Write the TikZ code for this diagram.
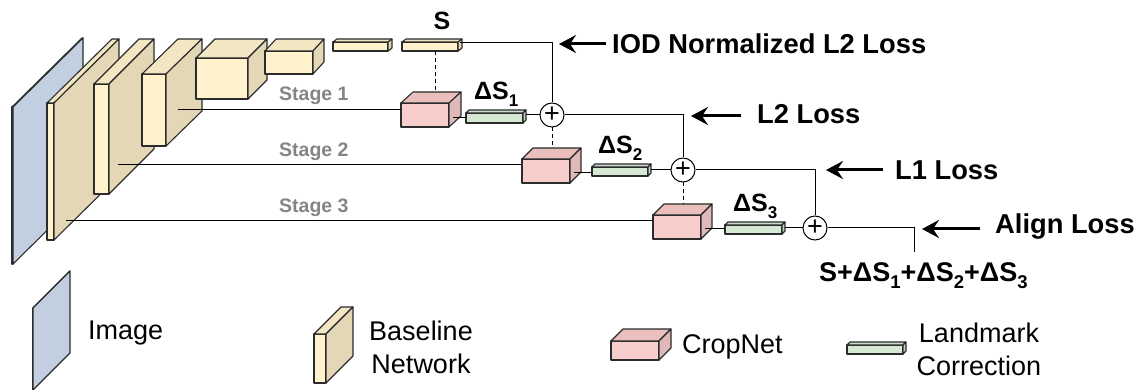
\documentclass[tikz,border=0pt]{standalone}
\usepackage{fontspec}
\usepackage{xcolor}
\usepackage{tikz}
\usetikzlibrary{arrows.meta}
\setmainfont{Liberation Sans}

\definecolor{woodfront}{HTML}{FFF2CC}
\definecolor{woodtop}{HTML}{F3E6C2}
\definecolor{woodside}{HTML}{E3D7B5}
\definecolor{cropfront}{HTML}{F8CECC}
\definecolor{croptop}{HTML}{EBBFBD}
\definecolor{cropside}{HTML}{DFB9B8}
\definecolor{markfront}{HTML}{D5E8D4}
\definecolor{marktop}{HTML}{CADCC9}
\definecolor{markside}{HTML}{BFD1BE}
\definecolor{imagefront}{HTML}{6A7078}
\definecolor{imagetop}{HTML}{6A7078}
\definecolor{imageside}{HTML}{C1CFE1}
\definecolor{edgecol}{HTML}{2B2B2B}

\tikzset{
  face/.style={draw=edgecol,line width=1.1pt,line join=round},
  link/.style={draw=black,line width=1pt},
  dashlink/.style={draw=black,line width=1pt,dash pattern=on 4pt off 3pt},
  loss/.style={line width=3pt,-{Stealth[length=17pt,width=18pt,inset=6pt]}},
  plusnode/.style={draw=black,circle,line width=1pt,fill=white,minimum size=24pt,inner sep=0pt,
    font=\fontsize{27}{27}\selectfont},
  title/.style={font=\fontsize{27.3}{30}\selectfont\bfseries,anchor=west,inner sep=0pt},
  sumtext/.style={font=\fontsize{25}{28}\selectfont\bfseries,inner sep=0pt},
  stagetext/.style={font=\fontsize{19.5}{22}\selectfont\bfseries,text=black!48,anchor=west,inner sep=0pt},
  legendtext/.style={font=\fontsize{27}{33}\selectfont,align=center,inner sep=0pt},
}

% name, left, top, width, height, dx, dy, colour family
\newcommand{\prism}[8]{
  \node[face,fill=#8front,anchor=north west,inner sep=0pt,outer sep=0pt,
    minimum width=#4pt,minimum height=#5pt] (#1) at (#2,#3) {};
  \draw[face,fill=#8top] (#1.north west) -- ++(#6,-#7) -- ++(#4,0) -- (#1.north east) -- cycle;
  \draw[face,fill=#8side] (#1.north east) -- ++(#6,-#7) -- ++(0,#5) -- (#1.south east) -- cycle;
}
\newcommand{\lowidx}[1]{\raisebox{-6.5pt}{\fontsize{17}{17}\selectfont #1}}
\newcommand{\sumidx}[1]{\raisebox{-7pt}{\fontsize{18.5}{18}\selectfont #1}}

\begin{document}
\begin{tikzpicture}[x=1pt,y=-1pt]
  \useasboundingbox (0,0) rectangle (1136,390);

  \prism{image}{12}{107}{1}{157}{70}{69}{image}
  \prism{base1}{47}{103}{7}{137}{65}{64}{wood}
  \prism{base2}{94}{84}{15}{110}{45}{45}{wood}
  \prism{base3}{142}{74}{24}{72}{36}{35}{wood}
  \prism{base4}{196}{58}{52}{41}{19}{19}{wood}
  \prism{base5}{265}{51}{48}{23}{11}{12}{wood}
  \prism{base6}{333}{42}{55}{9}{4}{3}{wood}
  \prism{base7}{402}{42}{56}{9}{4}{3}{wood}

  \prism{crop1}{401}{103}{48}{24}{12}{11}{crop}
  \prism{crop2}{522}{159}{48}{24}{11}{11}{crop}
  \prism{crop3}{653}{215}{48}{24}{11}{11}{crop}
  \prism{mark1}{466}{113}{57}{10}{3}{3}{mark}
  \prism{mark2}{592}{167}{56}{9}{3}{3}{mark}
  \prism{mark3}{725}{225}{57}{9}{3}{3}{mark}

  \node[plusnode] (plus1) at (552,115) {+};
  \node[plusnode] (plus2) at (683,170) {+};
  \node[plusnode] (plus3) at (815,228) {+};

  \coordinate (stage1) at (178,110);
  \coordinate (stage2) at (118,165);
  \coordinate (stage3) at (66,221);
  \coordinate (crop1out) at (453,118);
  \coordinate (crop2out) at (574,172.5);
  \coordinate (crop3out) at (705,229);
  \coordinate (shapeout) at (460,43);
  \coordinate (finalout) at (914,252);

  \draw[link] (stage1) -- (stage1 -| crop1.west);
  \draw[link] (stage2) -- (stage2 -| crop2.west);
  \draw[link] (stage3) -- (stage3 -| crop3.west);
  \draw[link] (crop1out) -- (crop1out -| mark1.west);
  \draw[link] (crop2out) -- (crop2out -| mark2.west);
  \draw[link] (crop3out) -- (crop3out -| mark3.west);
  \draw[link] (mark1.east |- plus1) ++(3,0) -- (plus1.west);
  \draw[link] (mark2.east |- plus2) ++(3,0) -- (plus2.west);
  \draw[link] (mark3.east |- plus3) ++(3,0) -- (plus3.west);
  \draw[link] (shapeout) -| (plus1.north);
  \draw[link] (plus1.east) -| (plus2.north);
  \draw[link] (plus2.east) -| (plus3.north);
  \draw[link] (plus3.east) -| (finalout);

  \draw[dashlink] (base7.south -| 435,0) -- (435,91);
  \draw[dashlink] (plus1.south) -- (plus1.south |- 0,148);
  \draw[dashlink] (plus2.south) -- (plus2.south |- 0,204);

  \coordinate (loss1) at (606,44);
  \coordinate (loss2) at (741,116);
  \coordinate (loss3) at (883,170);
  \coordinate (loss4) at (980,229);
  \draw[loss] (loss1) -- ++(-47,0);
  \draw[loss] (loss2) -- ++(-50,0);
  \draw[loss] (loss3) -- ++(-57,0);
  \draw[loss] (loss4) -- ++(-58,0);

  \node[title] (iodtext) at (612,44) {IOD Normalized L2 Loss};
  \node[title] (l2text) at (757,114) {L2 Loss};
  \node[title] (l1text) at (895,170) {L1 Loss};
  \node[title] (aligntext) at (995,227) {Align Loss};

  \node[sumtext] (stext) at (442,21) {S};
  \node[sumtext,anchor=base west] (ds1text) at (474,100) {ΔS\lowidx{1}};
  \node[sumtext,anchor=base west] (ds2text) at (598,154) {ΔS\lowidx{2}};
  \node[sumtext,anchor=base west] (ds3text) at (733,212) {ΔS\lowidx{3}};
  \node[sumtext,font=\fontsize{27}{28}\selectfont\bfseries,anchor=base west] (sumlabel) at (819,282) {S+ΔS\sumidx{1}+ΔS\sumidx{2}+ΔS\sumidx{3}};

  \node[stagetext] (stage1text) at (279,96) {Stage 1};
  \node[stagetext] (stage2text) at (279,152) {Stage 2};
  \node[stagetext] (stage3text) at (279,208) {Stage 3};

  % legend
  \prism{legimage}{33}{308}{0}{82}{37}{37}{image}
  \prism{legbase}{314}{334}{12}{49}{27}{27}{wood}
  \prism{legcrop}{611}{341}{48}{19}{12}{12}{crop}
  \prism{legmark}{847}{345}{56}{9}{3}{3}{mark}
  \node[legendtext,anchor=west] (imagetext) at (88,333) {Image};
  \node[legendtext] (basetext) at (421,347) {Baseline\\Network};
  \node[legendtext,anchor=west] (croptext) at (682,347) {CropNet};
  \node[legendtext] (marktext) at (979,349) {Landmark\\Correction};
\end{tikzpicture}
\end{document}
